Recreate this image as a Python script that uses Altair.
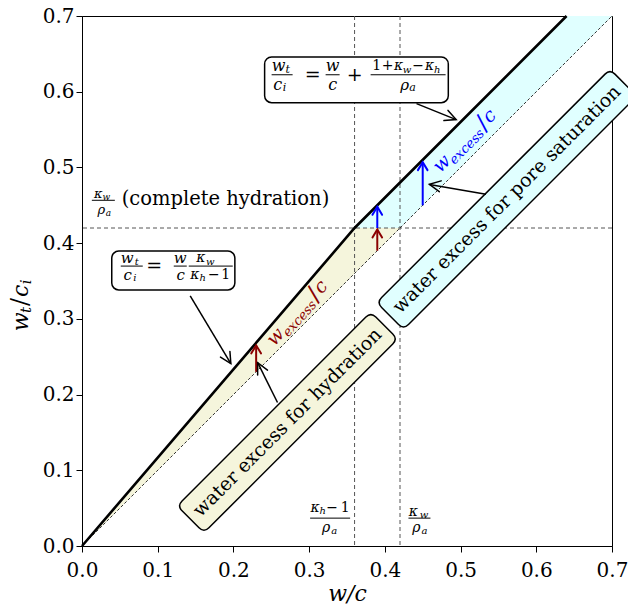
import math
import altair as alt
import pandas as pd

FONT = "DejaVu Serif"
W, H = 530, 530

# ---------------- data ----------------
tick_values = [0.0, 0.1, 0.2, 0.3, 0.4, 0.5, 0.6, 0.7]
domain = [0.0, 0.7]

hyd_limit_x = [0.36]   # (kappa_h - 1)/rho_a
sat_limit_x = [0.42]   # kappa_w/rho_a
hyd_limit_y = [0.42]   # kappa_w/rho_a (complete hydration)

bound_x = [0.0, 0.36, 0.64]
bound_y = [0.0, 0.42, 0.70]

diag_x = [0.0, 0.70]
diag_y = [0.0, 0.70]

hyd_x = [0.0, 0.36, 0.42]
hyd_lo = [0.0, 0.36, 0.42]
hyd_hi = [0.0, 0.42, 0.42]

sat_x = [0.36, 0.42, 0.64, 0.70]
sat_lo = [0.42, 0.42, 0.64, 0.70]
sat_hi = [0.42, 0.48, 0.70, 0.70]

red_x = [0.23, 0.39]
red_y0 = [0.23, 0.39]
red_y1 = [0.265, 0.418]
blue_x = [0.39, 0.45]
blue_y0 = [0.42, 0.45]
blue_y1 = [0.448, 0.507]

# annotation arrows (from label to target)
ann_x0 = [0.4418, 0.1429, 0.2582, 0.5335]
ann_y0 = [0.5842, 0.3303, 0.1895, 0.4645]
ann_x1 = [0.4942, 0.1966, 0.2320, 0.4588]
ann_y1 = [0.5632, 0.2408, 0.2421, 0.4776]

BEIGE = "#f5f5dc"
CYAN = "#e0ffff"
DARKRED = "#8b0000"

# ---------------- helpers ----------------
XS = alt.Scale(domain=domain, nice=False, zero=False)
YS = alt.Scale(domain=domain, nice=False, zero=False)
XA = alt.Axis(values=tick_values, format=".1f", title="w/c", titleFontStyle="italic",
              labelFlush=False, labelPadding=8, titlePadding=3)
YA = alt.Axis(values=tick_values, format=".1f", title=None, labelFlush=False, labelPadding=2)


def X(f="x"):
    return alt.X(f"{f}:Q", scale=XS, axis=XA)


def Y(f="y"):
    return alt.Y(f"{f}:Q", scale=YS, axis=YA)


layers = []

# filled regions
layers.append(alt.Chart(pd.DataFrame({"x": hyd_x, "lo": hyd_lo, "hi": hyd_hi}))
              .mark_area(color=BEIGE, opacity=1)
              .encode(x=X(), y=Y("lo"), y2=alt.Y2("hi:Q")))
layers.append(alt.Chart(pd.DataFrame({"x": sat_x, "lo": sat_lo, "hi": sat_hi}))
              .mark_area(color=CYAN, opacity=1)
              .encode(x=X(), y=Y("lo"), y2=alt.Y2("hi:Q")))

# dashed reference lines
layers.append(alt.Chart(pd.DataFrame({"x": hyd_limit_x + sat_limit_x}))
              .mark_rule(color="#555555", strokeDash=[4, 3], strokeWidth=1)
              .encode(x=X()))
layers.append(alt.Chart(pd.DataFrame({"y": hyd_limit_y}))
              .mark_rule(color="#555555", strokeDash=[4, 3], strokeWidth=1)
              .encode(y=Y()))

# w_t/c_i = w/c
layers.append(alt.Chart(pd.DataFrame({"x": diag_x, "y": diag_y}))
              .mark_line(color="black", strokeWidth=0.8, strokeDash=[3, 2])
              .encode(x=X(), y=Y()))
# bound
layers.append(alt.Chart(pd.DataFrame({"x": bound_x, "y": bound_y}))
              .mark_line(color="black", strokeWidth=2.6)
              .encode(x=X(), y=Y()))

# formula boxes
layers.append(alt.Chart(pd.DataFrame({"x": [0.2412, 0.0393], "x2": [0.4838, 0.2019],
                                      "y": [0.5855, 0.3382], "y2": [0.646, 0.3895]}))
              .mark_rect(fill="white", stroke="black", strokeWidth=1.5, cornerRadius=7)
              .encode(x=X(), x2=alt.X2("x2:Q"), y=Y(), y2=alt.Y2("y2:Q")))


def rbox(x, y, length, thick, fill, angle, radius=7):
    h = thick / length
    r = radius / (length / 2)
    f = lambda v: f"{v:.4f}"
    path = (f"M{f(-1 + r)},{f(-h)} L{f(1 - r)},{f(-h)} Q1,{f(-h)} 1,{f(-h + r)} "
            f"L1,{f(h - r)} Q1,{f(h)} {f(1 - r)},{f(h)} L{f(-1 + r)},{f(h)} "
            f"Q-1,{f(h)} -1,{f(h - r)} L-1,{f(-h + r)} Q-1,{f(-h)} {f(-1 + r)},{f(-h)} Z")
    layers.append(alt.Chart(pd.DataFrame({"x": [x], "y": [y]}))
                  .mark_point(shape=path, size=length ** 2, angle=angle, filled=True,
                              fill=fill, stroke="black", strokeWidth=1.5, opacity=1)
                  .encode(x=X(), y=Y()))


rbox(0.2713, 0.1632, 274, 38, BEIGE, 315)
rbox(0.561, 0.4579, 330, 38, CYAN, 315)

# colored excess arrows
CHEV = "M-1,-0.6 L0,0 L-1,0.6"
for xs, y0, y1, col in [(red_x, red_y0, red_y1, DARKRED), (blue_x, blue_y0, blue_y1, "blue")]:
    df = pd.DataFrame({"x": xs, "y": y0, "y2": y1})
    layers.append(alt.Chart(df).mark_rule(color=col, strokeWidth=2)
                  .encode(x=X(), y=Y(), y2=alt.Y2("y2:Q")))
    layers.append(alt.Chart(df).mark_point(shape=CHEV, size=256, angle=270, filled=False,
                                           color=col, strokeWidth=2, opacity=1,
                                           strokeCap="round")
                  .encode(x=X(), y=Y("y2")))

# annotation arrows
sx, sy = W / 0.7, H / 0.7
ann_angle = [math.degrees(math.atan2(-(b1 - b0) * sy, (a1 - a0) * sx)) % 360
             for a0, b0, a1, b1 in zip(ann_x0, ann_y0, ann_x1, ann_y1)]
adf = pd.DataFrame({"x": ann_x0, "y": ann_y0, "x2": ann_x1, "y2": ann_y1, "a": ann_angle})
layers.append(alt.Chart(adf).mark_rule(color="black", strokeWidth=1.5)
              .encode(x=X(), y=Y(), x2=alt.X2("x2:Q"), y2=alt.Y2("y2:Q")))
layers.append(alt.Chart(adf).mark_point(shape="M-1,-0.5 L0,0 L-1,0.5", size=484, filled=False,
                                        color="black", strokeWidth=1.5, opacity=1,
                                        strokeCap="round")
              .encode(x=X("x2"), y=Y("y2"), angle=alt.Angle("a:Q", scale=None)))


def pieces(ax, ay, items, angle=0, color="black", align="center", baseline="middle"):
    for s, size, style, dx, dy in items:
        layers.append(alt.Chart(pd.DataFrame({"x": [ax], "y": [ay], "t": [s]}))
                      .mark_text(font=FONT, fontSize=size, fontStyle=style, color=color,
                                 angle=angle, align=align, baseline=baseline, dx=dx, dy=dy)
                      .encode(x=X(), y=Y(), text="t:N"))


def bars(ax, ay, spans, width=1.0):
    for o0, o1 in spans:
        layers.append(alt.Chart(pd.DataFrame({"x": [ax], "y": [ay]}))
                      .mark_rule(color="black", strokeWidth=width, xOffset=o0, x2Offset=o1)
                      .encode(x=X(), x2=alt.X2("x:Q"), y=Y()))


IT, RM = "italic", "normal"

# formula 1: w_t/c_i = w/c + (1+k_w-k_h)/rho_a
f1 = (0.2412, 0.6224)
pieces(*f1, [
    ("w", 16, IT, 14, -9), ("t", 11, IT, 23, -5),
    ("c", 16, IT, 13, 10), ("i", 11, IT, 20, 13),
    ("=", 19, RM, 48, 0),
    ("w", 16, IT, 68, -9), ("c", 16, IT, 68, 10),
    ("+", 19, RM, 90, 0),
    ("1", 14, RM, 112, -9), ("+", 14, RM, 123, -9), ("κ", 14, IT, 134, -9),
    ("w", 10, IT, 142.5, -5), ("−", 14, RM, 153.5, -9), ("κ", 14, IT, 165, -9),
    ("h", 10, IT, 172.5, -5),
    ("ρ", 15, IT, 140, 10), ("a", 11, IT, 148, 13),
])
bars(*f1, [(7, 28), (61, 75), (106, 181)])

# formula 2: w_t/c_i = w/c * k_w/(k_h-1)
f2 = (0.0393, 0.3697)
pieces(*f2, [
    ("w", 15, IT, 15.5, -8), ("t", 10, IT, 25, -4),
    ("c", 15, IT, 16, 9), ("i", 10, IT, 23, 12),
    ("=", 19, RM, 42.5, 0),
    ("w", 15, IT, 68.5, -8), ("c", 15, IT, 69, 9),
    ("κ", 14, IT, 89, -8), ("w", 10, IT, 98.5, -4),
    ("κ", 14, IT, 83, 9), ("h", 10, IT, 91, 12), ("−", 14, RM, 102, 9), ("1", 14, RM, 114, 9),
])
bars(*f2, [(9, 31), (62, 75), (77, 121)])

# k_w/rho_a (complete hydration)
f3 = (0.0282, 0.4566)
pieces(*f3, [("κ", 13, IT, -5, -6), ("w", 9, IT, 3, -3), ("ρ", 13, IT, -2, 10), ("a", 9, IT, 5, 13)])
bars(*f3, [(-11.5, 11.5)])
pieces(0.0524, 0.4566, [("(complete hydration)", 19.5, RM, 0, -1)], align="left")

# bottom labels
f4 = (0.3277, 0.0368)
pieces(*f4, [("κ", 14, IT, -15, -10), ("h", 10, IT, -7.5, -7), ("−", 14, RM, 2, -10),
             ("1", 14, RM, 15, -10), ("ρ", 14, IT, -4, 10), ("a", 10, IT, 4, 13)])
bars(*f4, [(-20, 20)])
f5 = (0.4457, 0.0368)
pieces(*f5, [("κ", 14, IT, -6, -6), ("w", 10, IT, 4.5, -3), ("ρ", 14, IT, -3, 10), ("a", 10, IT, 5, 13)])
bars(*f5, [(-11, 11)])

# w_excess / c labels
exc = [("w", 19, IT, 0, 0), ("excess", 13, IT, 16, 4), ("/", 24, RM, 61, 2), ("c", 19, IT, 70, 0)]
pieces(0.2543, 0.2632, exc, angle=312, color=DARKRED, align="left", baseline="alphabetic")
pieces(0.4732, 0.4921, exc, angle=315, color="blue", align="left", baseline="alphabetic")

# box labels
pieces(0.2713, 0.1632, [("water excess for hydration", 19, RM, 0, 0)], angle=315)
pieces(0.561, 0.4579, [("water excess for pore saturation", 19, RM, 0, 0)], angle=315)

# y axis title w_t/c_i
pieces(-0.0800, 0.3184, [("w", 22, IT, -17, 0), ("t", 15, IT, -5, 5), ("/", 24, RM, 3, 0),
                         ("c", 22, IT, 14, 0), ("i", 15, IT, 23, 5)], angle=270)

chart = (alt.layer(*layers)
         .properties(width=W, height=H,
                     padding={"left": 74, "top": 8, "right": 16, "bottom": 59},
                     autosize=alt.AutoSizeParams(type="none"))
         .configure_view(stroke="black", strokeWidth=1)
         .configure_axis(labelFont=FONT, labelFontSize=20, labelColor="black",
                         titleFont=FONT, titleFontSize=22, titleFontWeight="normal",
                         titleColor="black", domainColor="black", domainWidth=1,
                         tickColor="black", tickSize=6, tickWidth=1, grid=False))

chart.save("out.html", embed_options={"renderer": "svg", "actions": False})
